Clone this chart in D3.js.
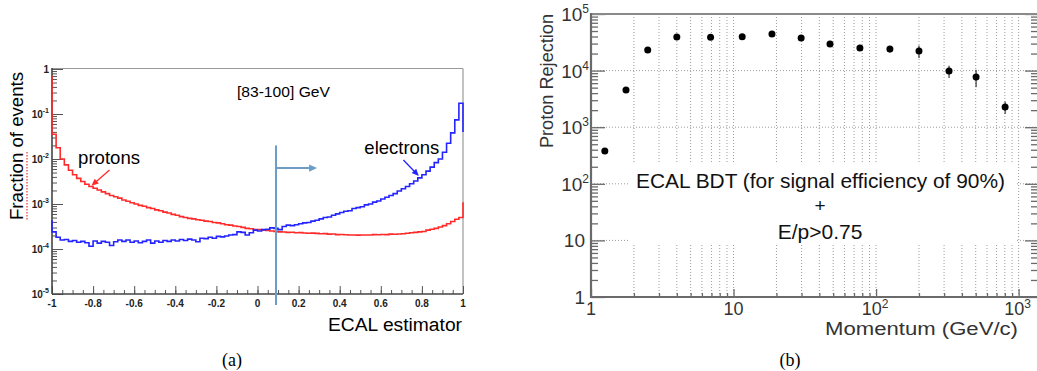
<!DOCTYPE html>
<html>
<head>
<meta charset="utf-8">
<script src="https://cdn.jsdelivr.net/npm/d3@7"></script>
<style>
  body { margin: 0; background: #fff; }
  svg { display: block; font-family: "Liberation Sans", Arial, Helvetica, sans-serif; }
</style>
</head>
<body>
<svg id="fig" width="1037" height="371"></svg>
<script>
// ---------- (a) ECAL estimator distributions, 100 bins on [-1, 1] ----------
const estimatorDomain = [-1, 1];
const binWidth = 0.02;

const protonFraction = [
  3.55e-2, 1.78e-2, 1.00e-2, 7.41e-3, 5.62e-3, 4.47e-3, 3.72e-3, 3.16e-3, 2.75e-3, 2.45e-3,
  2.24e-3, 2.04e-3, 1.86e-3, 1.70e-3, 1.55e-3, 1.45e-3, 1.35e-3, 1.23e-3, 1.15e-3, 1.07e-3,
  1.00e-3, 9.33e-4, 8.91e-4, 8.32e-4, 7.94e-4, 7.41e-4, 7.08e-4, 6.61e-4, 6.31e-4, 5.89e-4,
  5.62e-4, 5.25e-4, 5.01e-4, 4.79e-4, 4.68e-4, 4.47e-4, 4.37e-4, 4.17e-4, 4.07e-4, 3.89e-4,
  3.80e-4, 3.63e-4, 3.47e-4, 3.39e-4, 3.24e-4, 3.16e-4, 3.02e-4, 2.88e-4, 2.82e-4, 2.69e-4,
  2.71e-4, 2.63e-4, 2.57e-4, 2.51e-4, 2.45e-4, 2.40e-4, 2.38e-4, 2.34e-4, 2.36e-4, 2.29e-4,
  2.31e-4, 2.27e-4, 2.24e-4, 2.25e-4, 2.23e-4, 2.19e-4, 2.20e-4, 2.14e-4, 2.15e-4, 2.09e-4,
  2.10e-4, 2.08e-4, 2.04e-4, 2.05e-4, 2.03e-4, 2.04e-4, 2.05e-4, 2.04e-4, 2.09e-4, 2.08e-4,
  2.10e-4, 2.09e-4, 2.14e-4, 2.13e-4, 2.16e-4, 2.19e-4, 2.24e-4, 2.29e-4, 2.34e-4, 2.40e-4,
  2.45e-4, 2.63e-4, 2.75e-4, 2.88e-4, 3.09e-4, 3.31e-4, 3.63e-4, 4.07e-4, 4.57e-4, 5.01e-4
];
// content at the two end points of the range (spikes drawn at x = -1 and x = +1)
const protonEnds = [0.71, 1.10e-3];

const electronFraction = [
  2.40e-4, 1.82e-4, 1.58e-4, 1.62e-4, 1.48e-4, 1.55e-4, 1.41e-4, 1.48e-4, 1.38e-4, 1.15e-4,
  1.51e-4, 1.35e-4, 1.48e-4, 1.41e-4, 1.20e-4, 1.45e-4, 1.58e-4, 1.48e-4, 1.58e-4, 1.41e-4,
  1.51e-4, 1.38e-4, 1.48e-4, 1.58e-4, 1.35e-4, 1.51e-4, 1.41e-4, 1.55e-4, 1.48e-4, 1.58e-4,
  1.51e-4, 1.62e-4, 1.55e-4, 1.66e-4, 1.58e-4, 1.45e-4, 1.74e-4, 1.70e-4, 1.82e-4, 1.74e-4,
  1.91e-4, 1.86e-4, 1.95e-4, 2.04e-4, 2.09e-4, 2.40e-4, 2.34e-4, 2.04e-4, 2.29e-4, 2.63e-4,
  2.51e-4, 2.69e-4, 2.75e-4, 2.95e-4, 2.88e-4, 2.69e-4, 3.16e-4, 3.39e-4, 3.31e-4, 3.47e-4,
  3.63e-4, 3.80e-4, 3.89e-4, 4.17e-4, 4.37e-4, 4.68e-4, 5.01e-4, 5.13e-4, 5.62e-4, 6.03e-4,
  6.46e-4, 6.92e-4, 7.08e-4, 7.94e-4, 8.32e-4, 8.71e-4, 9.55e-4, 1.00e-3, 1.10e-3, 1.17e-3,
  1.29e-3, 1.41e-3, 1.55e-3, 1.70e-3, 1.95e-3, 2.19e-3, 2.45e-3, 2.82e-3, 3.24e-3, 3.80e-3,
  4.47e-3, 5.37e-3, 6.61e-3, 8.32e-3, 1.00e-2, 1.41e-2, 2.24e-2, 3.80e-2, 7.41e-2, 1.74e-1
];
const electronEnds = [4.37e-4, 3.98e-2];

const fractionTicks = [1e-5, 1e-4, 1e-3, 1e-2, 1e-1, 1];
const fractionTickLabels = [["10", "-5"], ["10", "-4"], ["10", "-3"], ["10", "-2"], ["10", "-1"], ["1", ""]];
const estimatorTicks = [-1, -0.8, -0.6, -0.4, -0.2, 0, 0.2, 0.4, 0.6, 0.8, 1];
const estimatorTickLabels = ["-1", "-0.8", "-0.6", "-0.4", "-0.2", "0", "0.2", "0.4", "0.6", "0.8", "1"];
const estimatorCut = 0.09;

// ---------- (b) proton rejection vs momentum ----------
const momentum  = [1.25, 1.76, 2.5, 4.0, 6.9, 11.5, 18.6, 29.8, 47.5, 77, 125, 200, 325, 503, 804];
const rejection = [380, 4540, 23100, 39300, 39000, 39500, 44300, 37700, 29500, 25100, 24000, 22200, 9800, 7700, 2275];
const rejectionErr = [20, 250, 1200, 2000, 2000, 2000, 2500, 2500, 2500, 2200, 3200, 5500, 2400, 2600, 560];

const rejectionTicks = [1, 10, 100, 1000, 10000, 100000];
const rejectionTickLabels = [["1", ""], ["10", ""], ["10", "2"], ["10", "3"], ["10", "4"], ["10", "5"]];
const momentumTicks = [1, 10, 100, 1000];
const momentumTickLabels = [["1", ""], ["10", ""], ["10", "2"], ["10", "3"]];

const svg = d3.select("#fig");

// ======================= panel (a) =======================
const xA = d3.scaleLinear().domain(estimatorDomain).range([52, 463]);
const yA = d3.scaleLog().domain([1e-5, 1]).range([294, 69]);

const gA = svg.append("g");

// frame
gA.append("line").attr("x1", xA(-1)).attr("x2", xA(1)).attr("y1", yA(1) - 0.5).attr("y2", yA(1) - 0.5)
  .attr("stroke", "#9a9a9a").attr("stroke-width", 1.2);
gA.append("line").attr("x1", xA(1)).attr("x2", xA(1)).attr("y1", yA(1) - 0.5).attr("y2", yA(1e-5))
  .attr("stroke", "#9a9a9a").attr("stroke-width", 1.2);

// minor / major ticks on the y axis
const minorFrac = [];
for (let e = -5; e < 0; e++) for (let m = 2; m <= 9; m++) minorFrac.push(m * Math.pow(10, e));
gA.append("g").attr("transform", `translate(${xA(-1)},0)`)
  .call(d3.axisLeft(yA).tickValues(minorFrac).tickSize(-5).tickFormat(""))
  .call(g => g.select(".domain").remove())
  .call(g => g.selectAll("line").attr("stroke", "#555"));
gA.append("g").attr("transform", `translate(${xA(-1)},0)`)
  .call(d3.axisLeft(yA).tickValues(fractionTicks).tickSize(-11).tickFormat(""))
  .call(g => g.select(".domain").remove())
  .call(g => g.selectAll("line").attr("stroke", "#555"));

// minor / major ticks on the x axis
const minorEst = d3.range(-1, 1.0001, 0.05);
gA.append("g").attr("transform", `translate(0,${yA(1e-5)})`)
  .call(d3.axisBottom(xA).tickValues(minorEst).tickSize(-4).tickFormat(""))
  .call(g => g.select(".domain").remove())
  .call(g => g.selectAll("line").attr("stroke", "#555"));
gA.append("g").attr("transform", `translate(0,${yA(1e-5)})`)
  .call(d3.axisBottom(xA).tickValues(estimatorTicks).tickSize(-8).tickFormat(""))
  .call(g => g.select(".domain").remove())
  .call(g => g.selectAll("line").attr("stroke", "#555"));

// axis lines
gA.append("line").attr("x1", xA(-1)).attr("x2", xA(-1)).attr("y1", yA(1) - 1).attr("y2", yA(1e-5))
  .attr("stroke", "#444").attr("stroke-width", 1.6);
gA.append("line").attr("x1", xA(-1)).attr("x2", xA(1)).attr("y1", yA(1e-5)).attr("y2", yA(1e-5))
  .attr("stroke", "#444").attr("stroke-width", 1.6);

// tick labels
fractionTicks.forEach((v, i) => {
  const t = gA.append("text").attr("x", xA(-1) - 3).attr("y", yA(v) + 4)
    .attr("text-anchor", "end").attr("font-size", 10).attr("font-weight", "bold").attr("fill", "#222");
  t.append("tspan").text(fractionTickLabels[i][0]);
  if (fractionTickLabels[i][1]) t.append("tspan").attr("dy", -5).attr("font-size", 7).text(fractionTickLabels[i][1]);
});
estimatorTicks.forEach((v, i) => {
  gA.append("text").attr("x", xA(v)).attr("y", yA(1e-5) + 13)
    .attr("text-anchor", "middle").attr("font-size", 10).attr("font-weight", "bold").attr("fill", "#222")
    .text(estimatorTickLabels[i]);
});

// histograms as step outlines
function histPoints(values, ends) {
  const pts = [{ x: estimatorDomain[0], y: ends[0] }];
  values.forEach((v, i) => pts.push({ x: estimatorDomain[0] + binWidth * (i + 1), y: v }));
  pts.push({ x: estimatorDomain[1], y: ends[1] });
  return pts;
}
const stepLine = d3.line().x(d => xA(d.x)).y(d => yA(d.y)).curve(d3.curveStepBefore);

gA.append("path").datum(histPoints(protonFraction, protonEnds))
  .attr("d", stepLine).attr("fill", "none").attr("stroke", "#ff2a2a").attr("stroke-width", 1.6);
gA.append("path").datum(histPoints(electronFraction, electronEnds))
  .attr("d", stepLine).attr("fill", "none").attr("stroke", "#2424ff").attr("stroke-width", 1.6);

// selection cut and direction arrow
const cutColor = "#6d9cc6";
gA.append("line").attr("x1", xA(estimatorCut)).attr("x2", xA(estimatorCut))
  .attr("y1", yA(2.0e-2)).attr("y2", yA(1e-5) + 11)
  .attr("stroke", cutColor).attr("stroke-width", 2);

function arrow(g, x1, y1, x2, y2, color, w, head) {
  const a = Math.atan2(y2 - y1, x2 - x1);
  g.append("line").attr("x1", x1).attr("y1", y1)
    .attr("x2", x2 - Math.cos(a) * head * 0.6).attr("y2", y2 - Math.sin(a) * head * 0.6)
    .attr("stroke", color).attr("stroke-width", w);
  const p = [
    [x2, y2],
    [x2 - head * Math.cos(a) + head * 0.45 * Math.sin(a), y2 - head * Math.sin(a) - head * 0.45 * Math.cos(a)],
    [x2 - head * Math.cos(a) - head * 0.45 * Math.sin(a), y2 - head * Math.sin(a) + head * 0.45 * Math.cos(a)]
  ];
  g.append("path").attr("d", "M" + p.map(q => q.join(",")).join("L") + "Z").attr("fill", color);
}
arrow(gA, xA(estimatorCut), yA(6.3e-3), xA(0.29), yA(6.3e-3), cutColor, 2, 8);

// annotations
gA.append("text").attr("x", xA(-0.873)).attr("y", yA(7.6e-3)).attr("font-size", 18.5).attr("fill", "#000")
  .attr("textLength", 62).attr("lengthAdjust", "spacingAndGlyphs").text("protons");
arrow(gA, xA(-0.72), yA(5.7e-3), xA(-0.808), yA(2.55e-3), "#ff2a2a", 1.3, 7);

gA.append("text").attr("x", xA(0.52)).attr("y", yA(1.1e-2) - 3).attr("font-size", 18.5).attr("fill", "#000")
  .attr("textLength", 75).attr("lengthAdjust", "spacingAndGlyphs").text("electrons");
arrow(gA, xA(0.71), yA(9.5e-3), xA(0.785), yA(4.2e-3), "#2424ff", 1.3, 7);

gA.append("text").attr("x", xA(-0.1)).attr("y", yA(0.24)).attr("font-size", 15).attr("fill", "#000")
  .attr("textLength", 93).attr("lengthAdjust", "spacingAndGlyphs").text("[83-100] GeV");

// axis titles
gA.append("text").attr("transform", "translate(23,146) rotate(-90)").attr("text-anchor", "middle")
  .attr("font-size", 18).attr("fill", "#000")
  .attr("textLength", 148).attr("lengthAdjust", "spacingAndGlyphs").text("Fraction of events");
// spell-check squiggle under "Fraction"
gA.append("line").attr("x1", 27).attr("x2", 27).attr("y1", 152).attr("y2", 220)
  .attr("stroke", "#e33").attr("stroke-width", 1.2).attr("stroke-dasharray", "1.5,1.5");

gA.append("text").attr("x", 328).attr("y", 331).attr("font-size", 18).attr("fill", "#000")
  .attr("textLength", 134).attr("lengthAdjust", "spacingAndGlyphs").text("ECAL estimator");

svg.append("text").attr("x", 232).attr("y", 366).attr("text-anchor", "middle")
  .attr("font-family", "'Liberation Serif', 'Times New Roman', serif").attr("font-size", 18).text("(a)");

// ======================= panel (b) =======================
const xB = d3.scaleLog().domain([1, 1390]).range([591, 1039]);
const yB = d3.scaleLog().domain([1, 1e5]).range([297, 14]);
const gB = svg.append("g");
const axisGray = "#6a6a6a";

// dotted grid
const gridMomentum = [];
for (let e = 0; e < 3; e++) for (let m = 2; m <= 10; m++) gridMomentum.push(m * Math.pow(10, e));
gB.append("g").selectAll("line").data(gridMomentum).join("line")
  .attr("x1", d => xB(d)).attr("x2", d => xB(d)).attr("y1", yB(1e5)).attr("y2", yB(1))
  .attr("stroke", "#9c9c9c").attr("stroke-width", 1).attr("stroke-dasharray", "1,2");
gB.append("g").selectAll("line").data([10, 100, 1000, 10000]).join("line")
  .attr("x1", xB(1)).attr("x2", 1037).attr("y1", d => yB(d)).attr("y2", d => yB(d))
  .attr("stroke", "#9c9c9c").attr("stroke-width", 1).attr("stroke-dasharray", "1,2");

// text box
gB.append("rect").attr("x", 628).attr("y", 163).attr("width", 387).attr("height", 82).attr("fill", "#fff");

// ticks
const minorRej = [];
for (let e = 0; e < 5; e++) for (let m = 2; m <= 9; m++) minorRej.push(m * Math.pow(10, e));
const minorMom = [];
for (let e = 0; e < 4; e++) for (let m = 2; m <= 9; m++) if (m * Math.pow(10, e) < 1390) minorMom.push(m * Math.pow(10, e));

function tickGroup(axis, tr) {
  gB.append("g").attr("transform", tr).call(axis)
    .call(g => g.select(".domain").remove())
    .call(g => g.selectAll("line").attr("stroke", axisGray).attr("stroke-width", 1.3));
}
tickGroup(d3.axisLeft(yB).tickValues(minorRej).tickSize(-7).tickFormat(""), `translate(${xB(1)},0)`);
tickGroup(d3.axisLeft(yB).tickValues(rejectionTicks).tickSize(-14).tickFormat(""), `translate(${xB(1)},0)`);
tickGroup(d3.axisRight(yB).tickValues(minorRej).tickSize(-8).tickFormat(""), `translate(${xB(1390)},0)`);
tickGroup(d3.axisRight(yB).tickValues(rejectionTicks).tickSize(-14).tickFormat(""), `translate(${xB(1390)},0)`);
tickGroup(d3.axisBottom(xB).tickValues(minorMom).tickSize(-4).tickFormat(""), `translate(0,${yB(1)})`);
tickGroup(d3.axisBottom(xB).tickValues(momentumTicks).tickSize(-8).tickFormat(""), `translate(0,${yB(1)})`);

// frame
gB.append("line").attr("x1", xB(1)).attr("x2", xB(1390)).attr("y1", yB(1e5)).attr("y2", yB(1e5))
  .attr("stroke", "#8a8a8a").attr("stroke-width", 2);
gB.append("line").attr("x1", xB(1)).attr("x2", xB(1)).attr("y1", yB(1e5) - 1).attr("y2", yB(1) + 1)
  .attr("stroke", axisGray).attr("stroke-width", 2.2);
gB.append("line").attr("x1", xB(1) - 1).attr("x2", xB(1390)).attr("y1", yB(1)).attr("y2", yB(1))
  .attr("stroke", axisGray).attr("stroke-width", 2.2);

// tick labels
rejectionTicks.forEach((v, i) => {
  const [base, sup] = rejectionTickLabels[i];
  const t = gB.append("text").attr("x", sup ? 589 : 585).attr("y", yB(v) + 7)
    .attr("text-anchor", "end").attr("font-size", 19).attr("fill", "#333");
  t.append("tspan").text(base);
  if (sup) t.append("tspan").attr("dy", -8).attr("font-size", 12).text(sup);
});
momentumTicks.forEach((v, i) => {
  const [base, sup] = momentumTickLabels[i];
  const t = gB.append("text").attr("x", xB(v) + (sup ? -1 : 0)).attr("y", 315)
    .attr("text-anchor", "middle").attr("font-size", 18).attr("fill", "#333");
  t.append("tspan").text(base);
  if (sup) t.append("tspan").attr("dy", -7).attr("font-size", 12).text(sup);
});

// error bars and markers
const pts = momentum.map((p, i) => ({ p, r: rejection[i], e: rejectionErr[i] }));
gB.append("g").selectAll("line").data(pts).join("line")
  .attr("x1", d => xB(d.p)).attr("x2", d => xB(d.p))
  .attr("y1", d => yB(d.r + d.e)).attr("y2", d => yB(Math.max(d.r - d.e, 1)))
  .attr("stroke", "#111").attr("stroke-width", 1);
gB.append("g").selectAll("circle").data(pts).join("circle")
  .attr("cx", d => xB(d.p)).attr("cy", d => yB(d.r)).attr("r", 3.5).attr("fill", "#000");

// box text
gB.append("text").attr("x", 636).attr("y", 188).attr("font-size", 21).attr("fill", "#111")
  .attr("textLength", 369).attr("lengthAdjust", "spacingAndGlyphs")
  .text("ECAL BDT (for signal efficiency of 90%)");
gB.append("text").attr("x", 820).attr("y", 212).attr("text-anchor", "middle").attr("font-size", 19)
  .attr("fill", "#111").text("+");
gB.append("text").attr("x", 820).attr("y", 239).attr("text-anchor", "middle").attr("font-size", 21)
  .attr("fill", "#111").text("E/p>0.75");

// axis titles
gB.append("text").attr("transform", "translate(553,81) rotate(-90)").attr("text-anchor", "middle")
  .attr("font-size", 18).attr("fill", "#333")
  .attr("textLength", 134).attr("lengthAdjust", "spacingAndGlyphs").text("Proton Rejection");
gB.append("text").attr("x", 825).attr("y", 335).attr("font-size", 18).attr("fill", "#333")
  .attr("textLength", 193).attr("lengthAdjust", "spacingAndGlyphs").text("Momentum (GeV/c)");

svg.append("text").attr("x", 790).attr("y", 366).attr("text-anchor", "middle")
  .attr("font-family", "'Liberation Serif', 'Times New Roman', serif").attr("font-size", 18).text("(b)");
</script>
</body>
</html>
